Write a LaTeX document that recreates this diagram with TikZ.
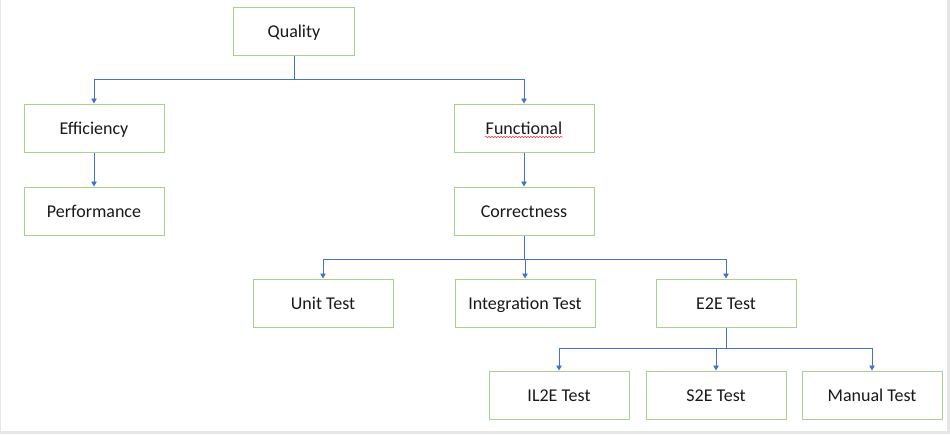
\documentclass[tikz,border=0pt]{standalone}
\usepackage{fontspec}
\setmainfont{Carlito}
\usetikzlibrary{arrows.meta,decorations.pathmorphing}
\definecolor{boxgreen}{HTML}{A9D18E}
\definecolor{linkblue}{HTML}{4472C4}
\definecolor{framegray}{HTML}{E6E6E6}
\begin{document}
\begin{tikzpicture}[x=1pt,y=-1pt,
  box/.style={draw=boxgreen,line width=1pt,fill=white,minimum width=140pt,minimum height=48pt,inner sep=0pt,
    text height=13pt,text depth=0pt,
    font=\fontsize{18}{20}\selectfont,text=black!90},
  link/.style={draw=linkblue,line width=0.9pt,-{Triangle[width=5.5pt,length=5pt]}},
  stem/.style={draw=linkblue,line width=0.9pt}]
  \fill[framegray] (0,0) rectangle (950,434);
  \fill[white] (1,0) rectangle (947,431);
  \useasboundingbox (0,0) rectangle (950,434);

  \node[box,minimum width=121pt] (q) at (294,31) {Quality};
  \node[box] (eff) at (94,128) {Efficiency};
  \node[box] (perf) at (94,211) {Performance};
  \node[box] (fun) at (524,128) {Functional};
  \node[box] (cor) at (524,211) {Correctness};
  \node[box] (unit) at (323,303) {Unit Test};
  \node[box] (integ) at (525,303) {Integration Test};
  \node[box] (e2e) at (726,303) {E2E Test};
  \node[box] (il2e) at (559,395) {IL2E Test};
  \node[box] (s2e) at (716,395) {S2E Test};
  \node[box] (man) at (872,395) {Manual Test};

  \coordinate (b1) at (0,79);
  \coordinate (b2) at (0,259);
  \coordinate (b3) at (0,348);

  % spell-check underline under "Functional"
  \coordinate (sq1) at (485,137);
  \coordinate (sq2) at (563,137);
  \draw[red!80,line width=0.5pt,decorate,decoration={snake,amplitude=0.7pt,segment length=3pt}] (sq1) -- (sq2);

  \draw[stem] (q.south) -- (q.south|-b1);
  \draw[link] (q.south|-b1) -| (eff.north);
  \draw[link] (q.south|-b1) -| (fun.north);
  \draw[link] (eff) -- (perf);
  \draw[link] (fun) -- (cor);

  \draw[stem] (cor.south) -- (cor.south|-b2);
  \draw[link] (cor.south|-b2) -| (unit.north);
  \draw[link] (cor.south|-b2) -| (integ.north);
  \draw[link] (cor.south|-b2) -| (e2e.north);

  \draw[stem] (e2e.south) -- (e2e.south|-b3);
  \draw[link] (e2e.south|-b3) -| (il2e.north);
  \draw[link] (e2e.south|-b3) -| (s2e.north);
  \draw[link] (e2e.south|-b3) -| (man.north);
\end{tikzpicture}
\end{document}
